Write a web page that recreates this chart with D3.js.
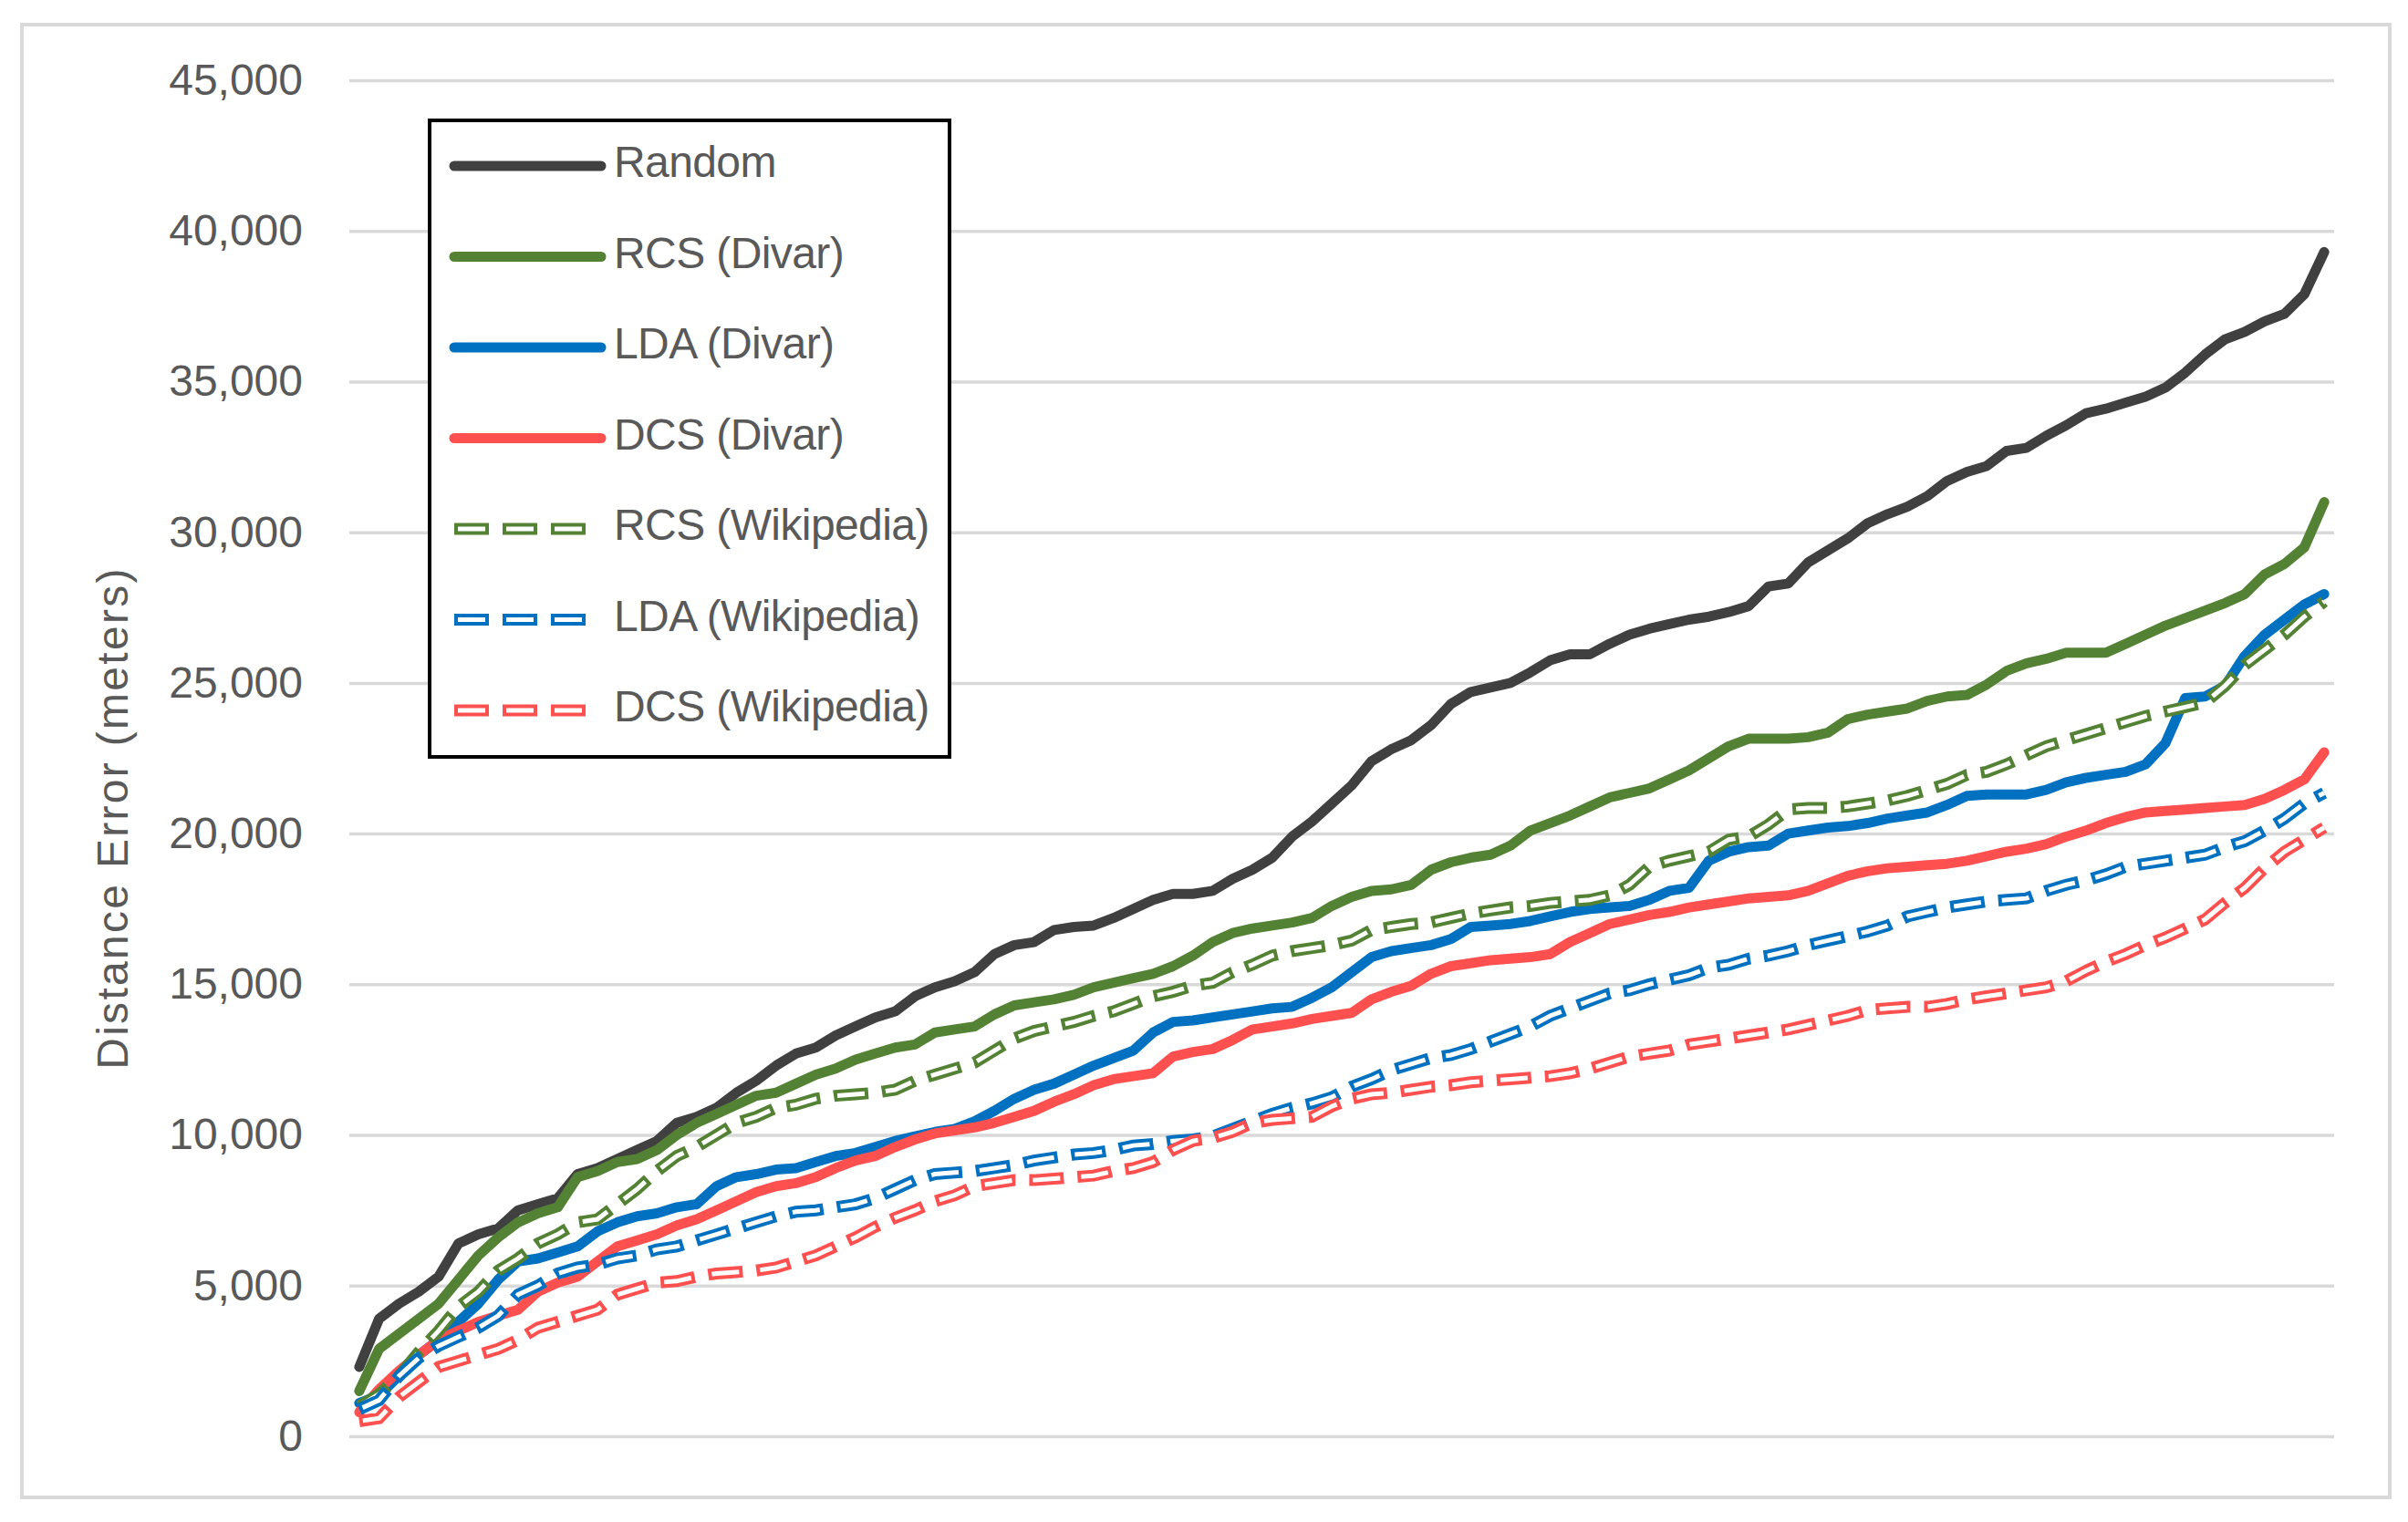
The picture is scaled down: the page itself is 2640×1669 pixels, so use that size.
<!DOCTYPE html>
<html>
<head>
<meta charset="utf-8">
<script src="https://cdn.jsdelivr.net/npm/d3@7.9.0/dist/d3.min.js"></script>
<style>
  html, body { margin: 0; padding: 0; background: #fff; }
  svg { display: block; font-family: 'Liberation Sans', Arial, sans-serif; }
</style>
</head>
<body>
<svg id="chart" width="2640" height="1669"></svg>
<script>
// 100 sorted samples per method (x axis has no labels)
const categories = d3.range(1, 101);

const yTicks = [0, 5000, 10000, 15000, 20000, 25000, 30000, 35000, 40000, 45000];

// values in thousands of meters
const random = [
  2.3, 3.9, 4.4, 4.8, 5.3, 6.4, 6.7, 6.9, 7.5, 7.7, 7.9, 8.7, 8.9, 9.2, 9.5, 9.8, 10.4,
  10.6, 10.9, 11.4, 11.8, 12.3, 12.7, 12.9, 13.3, 13.6, 13.9, 14.1, 14.6, 14.9, 15.1, 15.4, 16.0, 16.3,
  16.4, 16.8, 16.9, 16.95, 17.2, 17.5, 17.8, 18.0, 18.0, 18.1, 18.5, 18.8, 19.2, 19.9, 20.4, 21.0,
  21.6, 22.4, 22.8, 23.1, 23.6, 24.3, 24.7, 24.85, 25.0, 25.35, 25.75, 25.95, 25.95, 26.3, 26.6, 26.8, 26.95,
  27.1, 27.2, 27.35, 27.55, 28.2, 28.3, 29.0, 29.4, 29.8, 30.3, 30.6, 30.85, 31.2, 31.7, 32.0, 32.2, 32.7,
  32.8, 33.2, 33.55, 33.95, 34.1, 34.3, 34.5, 34.8, 35.3, 35.9, 36.4, 36.65, 37.0, 37.25, 37.9, 39.3
];
const rcsDivar = [
  1.5, 2.9, 3.4, 3.9, 4.4, 5.2, 6.0, 6.6, 7.1, 7.4, 7.6, 8.6, 8.8, 9.1, 9.2, 9.5, 10.0,
  10.4, 10.7, 11.0, 11.3, 11.4, 11.7, 12.0, 12.2, 12.5, 12.7, 12.9, 13.0, 13.4, 13.5, 13.6, 14.0, 14.3,
  14.4, 14.5, 14.65, 14.9, 15.05, 15.2, 15.35, 15.6, 15.95, 16.4, 16.7, 16.85, 16.95, 17.05, 17.2, 17.6,
  17.9, 18.1, 18.15, 18.3, 18.8, 19.05, 19.2, 19.3, 19.6, 20.1, 20.35, 20.6, 20.9, 21.2, 21.35, 21.5, 21.8,
  22.1, 22.5, 22.9, 23.15, 23.15, 23.15, 23.2, 23.35, 23.8, 23.95, 24.05, 24.15, 24.4, 24.55, 24.6, 24.95, 25.4,
  25.65, 25.8, 26.0, 26.0, 26.0, 26.3, 26.6, 26.9, 27.15, 27.4, 27.65, 27.95, 28.6, 28.95, 29.5, 31.0
];
const ldaDivar = [
  1.1, 1.36, 2.0, 2.7, 3.2, 3.8, 4.4, 5.2, 5.8, 5.9, 6.1, 6.3, 6.8, 7.1, 7.3, 7.4, 7.6,
  7.7, 8.3, 8.6, 8.7, 8.85, 8.9, 9.1, 9.3, 9.4, 9.6, 9.8, 9.95, 10.1, 10.2, 10.45, 10.8, 11.2,
  11.5, 11.7, 12.0, 12.3, 12.55, 12.8, 13.4, 13.75, 13.8, 13.9, 14.0, 14.1, 14.2, 14.25, 14.55, 14.9,
  15.4, 15.9, 16.1, 16.2, 16.3, 16.5, 16.9, 16.95, 17.0, 17.1, 17.25, 17.4, 17.5, 17.55, 17.6, 17.8, 18.1,
  18.2, 19.1, 19.4, 19.55, 19.6, 20.0, 20.1, 20.2, 20.25, 20.35, 20.5, 20.6, 20.7, 20.95, 21.25, 21.3, 21.3,
  21.3, 21.45, 21.7, 21.85, 21.95, 22.05, 22.3, 23.0, 24.5, 24.55, 24.9, 25.9, 26.6, 27.1, 27.6, 27.95
];
const dcsDivar = [
  0.8, 1.56, 2.17, 2.7, 3.2, 3.5, 3.8, 4.0, 4.2, 4.8, 5.1, 5.3, 5.8, 6.3, 6.5, 6.7, 7.0,
  7.2, 7.5, 7.8, 8.1, 8.3, 8.4, 8.6, 8.9, 9.15, 9.3, 9.6, 9.85, 10.05, 10.15, 10.25, 10.4, 10.6,
  10.8, 11.1, 11.35, 11.65, 11.85, 11.95, 12.05, 12.6, 12.75, 12.85, 13.15, 13.5, 13.6, 13.7, 13.85, 13.95,
  14.05, 14.5, 14.75, 14.95, 15.35, 15.6, 15.7, 15.8, 15.85, 15.9, 16.0, 16.4, 16.7, 17.0, 17.15, 17.3, 17.4,
  17.55, 17.65, 17.75, 17.85, 17.9, 17.95, 18.1, 18.35, 18.6, 18.75, 18.85, 18.9, 18.95, 19.0, 19.1, 19.25, 19.4,
  19.5, 19.65, 19.9, 20.1, 20.35, 20.55, 20.7, 20.75, 20.8, 20.85, 20.9, 20.95, 21.15, 21.45, 21.8, 22.7
];
const rcsWiki = [
  1.0, 1.4, 2.0, 2.8, 3.5, 4.3, 4.8, 5.5, 5.9, 6.4, 6.7, 7.1, 7.2, 7.7, 8.2, 8.8, 9.3,
  9.6, 10.0, 10.4, 10.6, 10.9, 11.0, 11.2, 11.3, 11.35, 11.4, 11.5, 11.8, 12.0, 12.2, 12.4, 12.8, 13.2,
  13.45, 13.6, 13.75, 13.95, 14.1, 14.35, 14.6, 14.75, 14.95, 15.05, 15.4, 15.65, 15.95, 16.1, 16.2, 16.3,
  16.45, 16.8, 16.9, 17.0, 17.05, 17.2, 17.35, 17.45, 17.55, 17.6, 17.7, 17.75, 17.8, 17.95, 18.3, 18.9, 19.1,
  19.25, 19.4, 19.8, 19.9, 20.3, 20.8, 20.85, 20.85, 20.9, 21.0, 21.1, 21.25, 21.45, 21.65, 21.95, 22.05, 22.3,
  22.6, 22.9, 23.1, 23.3, 23.5, 23.7, 23.9, 24.05, 24.2, 24.35, 24.9, 25.6, 26.1, 26.6, 27.2, 27.7
];
const ldaWiki = [
  0.9, 1.2, 2.0, 2.6, 3.0, 3.3, 3.6, 4.0, 4.7, 5.0, 5.4, 5.6, 5.7, 5.9, 6.0, 6.2, 6.3,
  6.5, 6.7, 6.9, 7.1, 7.3, 7.45, 7.5, 7.6, 7.7, 7.9, 8.2, 8.5, 8.7, 8.75, 8.8, 8.9, 9.0,
  9.15, 9.25, 9.35, 9.4, 9.5, 9.65, 9.7, 9.8, 9.85, 9.95, 10.2, 10.45, 10.7, 10.9, 11.05, 11.25,
  11.6, 11.85, 12.15, 12.35, 12.55, 12.65, 12.85, 13.1, 13.35, 13.6, 13.95, 14.2, 14.45, 14.7, 14.8, 15.0, 15.15,
  15.3, 15.55, 15.65, 15.85, 15.95, 16.1, 16.3, 16.45, 16.6, 16.75, 16.95, 17.25, 17.4, 17.55, 17.65, 17.75, 17.8,
  17.85, 18.1, 18.3, 18.45, 18.65, 18.9, 19.0, 19.1, 19.2, 19.3, 19.55, 19.75, 20.1, 20.5, 21.0, 21.35
];
const dcsWiki = [
  0.5, 0.6, 1.3, 1.8, 2.3, 2.5, 2.7, 2.9, 3.2, 3.6, 3.8, 4.0, 4.2, 4.7, 4.9, 5.1, 5.15,
  5.3, 5.4, 5.45, 5.5, 5.6, 5.8, 6.0, 6.3, 6.6, 6.95, 7.25, 7.5, 7.8, 8.0, 8.3, 8.4, 8.5,
  8.5, 8.55, 8.6, 8.65, 8.8, 8.9, 9.1, 9.5, 9.8, 9.9, 10.1, 10.4, 10.5, 10.55, 10.6, 10.95,
  11.2, 11.35, 11.4, 11.5, 11.6, 11.65, 11.75, 11.8, 11.85, 11.9, 11.95, 12.05, 12.2, 12.4, 12.6, 12.7, 12.8,
  13.0, 13.1, 13.2, 13.3, 13.4, 13.5, 13.65, 13.8, 13.95, 14.15, 14.2, 14.25, 14.25, 14.35, 14.5, 14.6, 14.7,
  14.8, 14.9, 15.1, 15.45, 15.75, 16.0, 16.3, 16.55, 16.85, 17.15, 17.7, 18.2, 18.85, 19.4, 19.8, 20.2
];

const series = [
  { name: 'Random', values: random, color: '#404040', dashed: false },
  { name: 'RCS (Divar)', values: rcsDivar, color: '#548235', dashed: false },
  { name: 'LDA (Divar)', values: ldaDivar, color: '#0070c0', dashed: false },
  { name: 'DCS (Divar)', values: dcsDivar, color: '#ff5050', dashed: false },
  { name: 'RCS (Wikipedia)', values: rcsWiki, color: '#548235', dashed: true },
  { name: 'LDA (Wikipedia)', values: ldaWiki, color: '#0070c0', dashed: true },
  { name: 'DCS (Wikipedia)', values: dcsWiki, color: '#ff5050', dashed: true }
];

const plot = { left: 383, right: 2559, top: 88, bottom: 1575 };
const textColor = '#595959';
const gridColor = '#d9d9d9';

const svg = d3.select('#chart');

svg.append('rect')
  .attr('x', 24).attr('y', 27)
  .attr('width', 2596).attr('height', 1615)
  .attr('fill', '#fff')
  .attr('stroke', gridColor)
  .attr('stroke-width', 4);

const x = d3.scalePoint()
  .domain(categories)
  .range([plot.left, plot.right])
  .padding(0.5);

const y = d3.scaleLinear()
  .domain([0, 45000])
  .range([plot.bottom, plot.top]);

const yAxis = d3.axisLeft(y)
  .tickValues(yTicks)
  .tickFormat(d3.format(','))
  .tickSize(-(plot.right - plot.left))
  .tickPadding(51);

svg.append('g')
  .attr('transform', `translate(${plot.left},0)`)
  .call(yAxis)
  .call((g) => g.select('.domain').remove())
  .call((g) => g.selectAll('.tick line')
    .attr('stroke', gridColor)
    .attr('stroke-width', 3.5))
  .call((g) => g.selectAll('.tick text')
    .attr('fill', textColor)
    .attr('font-size', 48)
    .attr('font-family', 'Liberation Sans, Arial, sans-serif'));

svg.append('text')
  .attr('transform', 'translate(140,897) rotate(-90)')
  .attr('text-anchor', 'middle')
  .attr('fill', textColor)
  .attr('font-size', 48)
  .attr('letter-spacing', 2.3)
  .text('Distance Error (meters)');

const line = d3.line()
  .x((d, i) => x(categories[i]))
  .y((d) => y(d * 1000));

// dashed series are drawn hollow: a coloured dash with a thin white core
function drawStroke(g, d, s, lineWidth) {
  if (!s.dashed) {
    g.append('path')
      .attr('d', d)
      .attr('fill', 'none')
      .attr('stroke', s.color)
      .attr('stroke-width', lineWidth)
      .attr('stroke-linejoin', 'round')
      .attr('stroke-linecap', 'round');
    return;
  }
  g.append('path')
    .attr('d', d)
    .attr('fill', 'none')
    .attr('stroke', s.color)
    .attr('stroke-width', lineWidth + 2)
    .attr('stroke-dasharray', '38 15');
  g.append('path')
    .attr('d', d)
    .attr('fill', 'none')
    .attr('stroke', '#fff')
    .attr('stroke-width', 5)
    .attr('stroke-dasharray', '30 23')
    .attr('stroke-dashoffset', -4);
}

const linesG = svg.append('g');
series.forEach((s) => {
  drawStroke(linesG, line(s.values), s, 11);
});

// legend
const legend = svg.append('g');
legend.append('rect')
  .attr('x', 471).attr('y', 132)
  .attr('width', 570).attr('height', 698)
  .attr('fill', '#fff')
  .attr('stroke', '#000')
  .attr('stroke-width', 4);

series.forEach((s, i) => {
  const rowY = 182 + i * 99.5;
  const x2 = s.dashed ? 644 : 659;
  drawStroke(legend, `M498,${rowY}L${x2},${rowY}`, s, 11);
  legend.append('text')
    .attr('x', 673)
    .attr('y', rowY + 12)
    .attr('fill', textColor)
    .attr('font-size', 48)
    .attr('letter-spacing', -0.6)
    .text(s.name);
});
</script>
</body>
</html>
